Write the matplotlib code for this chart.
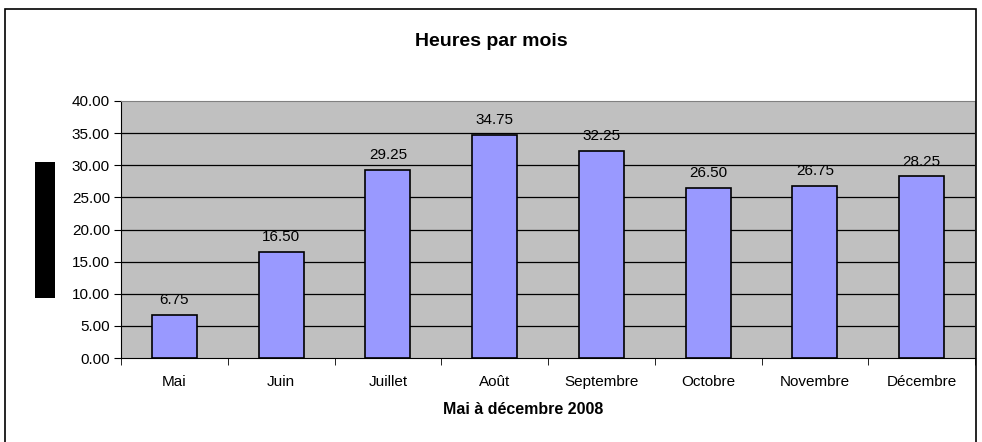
import numpy as np
import matplotlib.pyplot as plt
from matplotlib.patches import Rectangle

plt.rcParams['font.family'] = ['Liberation Sans', 'DejaVu Sans']

MOIS = ['Mai', 'Juin', 'Juillet', 'Août', 'Septembre', 'Octobre', 'Novembre', 'Décembre']
HEURES = [6.75, 16.50, 29.25, 34.75, 32.25, 26.50, 26.75, 28.25]
Y_TICKS = [0, 5, 10, 15, 20, 25, 30, 35, 40]


def main():
    fig = plt.figure(figsize=(9.82, 4.42), dpi=100)

    # outer chart frame
    fig.patches.append(Rectangle((5 / 982, -0.1), 971 / 982, 1.1 - 9 / 442,
                                 transform=fig.transFigure, fill=False,
                                 edgecolor='black', linewidth=1.2))
    # black block on the left (hidden axis title)
    fig.patches.append(Rectangle((35 / 982, 1 - 298 / 442), 20 / 982, 136 / 442,
                                 transform=fig.transFigure, facecolor='black',
                                 edgecolor='none'))

    ax = fig.add_axes([121 / 982, 1 - 358 / 442, 854 / 982, 257 / 442])
    ax.set_facecolor('#C0C0C0')

    x = np.arange(len(MOIS))
    ax.bar(x, HEURES, width=0.42, color='#9999FF', edgecolor='black',
           linewidth=1.2, zorder=3)
    for xi, h in zip(x, HEURES):
        ax.text(xi, h + 1.2, f'{h:.2f}', ha='center', va='bottom', fontsize=11)

    ax.set_xlim(-0.5, len(MOIS) - 0.5)
    ax.set_ylim(0, 40)
    ax.set_yticks(Y_TICKS)
    ax.set_yticklabels([f'{v:.2f}' for v in Y_TICKS], fontsize=11)
    for v in Y_TICKS[1:-1]:
        ax.axhline(v, color='black', linewidth=0.9, zorder=1)

    ax.set_xticks(x)
    ax.set_xticklabels(MOIS, fontsize=11)
    ax.tick_params(axis='x', length=0, pad=12)
    ax.set_xticks(np.arange(len(MOIS) + 1) - 0.5, minor=True)
    ax.tick_params(axis='x', which='minor', length=5, direction='out')
    ax.tick_params(axis='y', length=5, direction='out', pad=3)

    ax.spines['top'].set_color('#808080')
    ax.spines['right'].set_color('#808080')
    ax.spines['left'].set_color('black')
    ax.spines['bottom'].set_color('black')

    fig.text(523 / 982, 1 - 410 / 442, 'Mai à décembre 2008', ha='center', va='center',
             fontsize=11.5, fontweight='bold')
    fig.text(491 / 982, 1 - 41 / 442, 'Heures par mois', ha='center', va='center',
             fontsize=14, fontweight='bold')

    fig.savefig('out.png', dpi=100)


if __name__ == "__main__":
    main()
